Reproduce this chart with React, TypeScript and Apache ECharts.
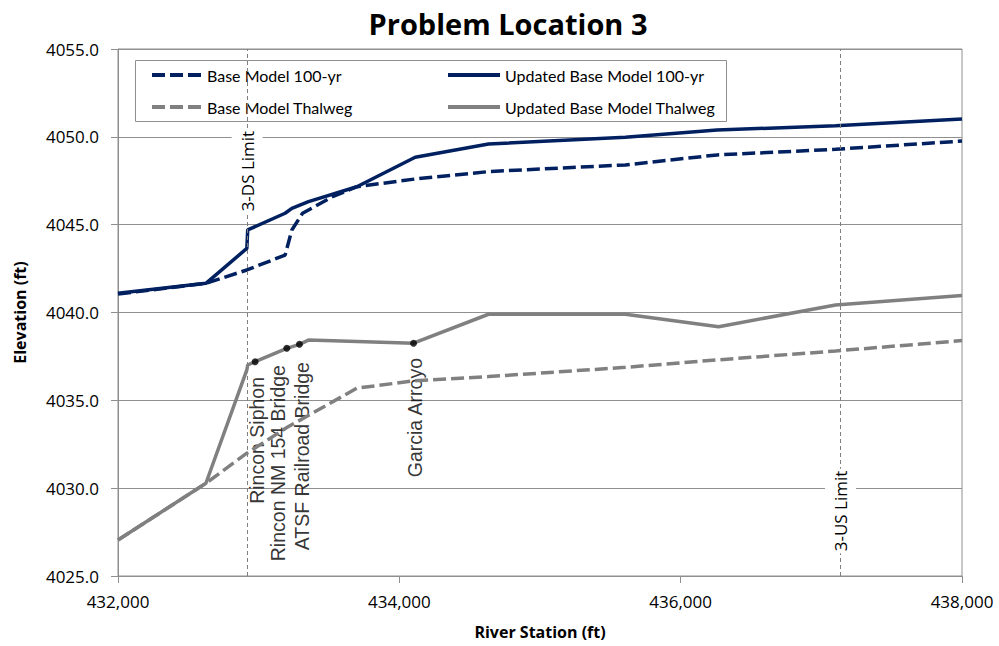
import React, { useEffect, useRef } from "react";
import * as echarts from "echarts";

const stationBase100 = [432000, 432625, 432916, 433188, 433236, 433312, 433525, 433698, 434113, 434634, 435607, 436259, 437101, 438000];
const elevBase100 = [4041.05, 4041.66, 4042.42, 4043.27, 4044.7, 4045.65, 4046.59, 4047.16, 4047.6, 4048.02, 4048.4, 4048.97, 4049.29, 4049.76];

const stationUpdated100 = [432000, 432625, 432916, 432922, 433188, 433236, 433354, 433698, 434113, 434634, 435607, 436259, 437101, 438000];
const elevUpdated100 = [4041.1, 4041.66, 4043.65, 4044.7, 4045.65, 4045.93, 4046.31, 4047.16, 4048.84, 4049.59, 4049.97, 4050.39, 4050.63, 4051.02];

const stationBaseThal = [432000, 432625, 432916, 433200, 433698, 434113, 434634, 435607, 436259, 437101, 438000];
const elevBaseThal = [4027.05, 4030.28, 4031.99, 4033.45, 4035.69, 4036.12, 4036.35, 4036.88, 4037.3, 4037.81, 4038.4];

const stationUpdatedThal = [432000, 432625, 432916, 432922, 432975, 433200, 433290, 433354, 434101, 434634, 435607, 436270, 437101, 438000];
const elevUpdatedThal = [4027.05, 4030.28, 4036.73, 4037.01, 4037.2, 4037.96, 4038.19, 4038.43, 4038.25, 4039.9, 4039.9, 4039.19, 4040.43, 4040.97];

const markerNames = ["Rincon Siphon", "Rincon NM 154 Bridge", "ATSF Railroad Bridge", "Garcia Arroyo"];
const markerStations = [432975, 433200, 433290, 434101];
const markerElevs = [4037.2, 4037.96, 4038.19, 4038.25];
const markerLabelStations = [432987, 433140, 433307, 434113];
const markerLabelElevs = [4036.33, 4037.01, 4037.18, 4037.41];

const limitNames = ["3-DS Limit", "3-US Limit"];
const limitStations = [432918, 437136];
const limitLabelElevs = [4048.05, 4028.7];

const seriesNames = ["Base Model 100-yr", "Updated Base Model 100-yr", "Base Model Thalweg", "Updated Base Model Thalweg"];

const xMin = 432000;
const xMax = 438000;
const xInterval = 2000;
const yMin = 4025;
const yMax = 4055;
const yInterval = 5;

const NAVY = "#002060";
const GRAY = "#808080";
const GRID = "#8f8f8f";

const zip = (xs: number[], ys: number[]) => xs.map((x, i) => [x, ys[i]]);

export default function App() {
  const ref = useRef<HTMLDivElement>(null);
  useEffect(() => {
    if (!ref.current) return;
    const chart = echarts.init(ref.current, null, { renderer: "svg" });
    const legendText = { fontFamily: "Lato", fontSize: 16, color: "#000" };
    const legendCommon = {
      orient: "vertical",
      top: 67,
      padding: 0,
      itemHeight: 16,
      itemGap: 16,
      textStyle: legendText,
      itemStyle: { opacity: 0 },
      lineStyle: { width: 4 },
    };
    const option: any = {
      animation: false,
      backgroundColor: "#fff",
      title: {
        text: "Problem Location 3",
        left: 503,
        textAlign: "center",
        top: 4,
        textStyle: { fontFamily: "Open Sans", fontWeight: "bold", fontSize: 29, color: "#000" },
      },
      grid: { left: 118, right: 37, top: 49, bottom: 70, show: true, borderColor: GRID, borderWidth: 1 },
      legend: [
        { ...legendCommon, data: [seriesNames[0], seriesNames[2]], left: 150, itemWidth: 50 },
        { ...legendCommon, data: [seriesNames[1], seriesNames[3]], left: 446, itemWidth: 52 },
      ],
      graphic: [
        {
          type: "rect",
          shape: { x: 135.5, y: 60.5, width: 591, height: 61 },
          style: { fill: "none", stroke: GRID, lineWidth: 1 },
          z: 10,
        },
      ],
      xAxis: {
        type: "value",
        min: xMin,
        max: xMax,
        interval: xInterval,
        name: "River Station (ft)",
        nameLocation: "middle",
        nameGap: 48,
        nameTextStyle: { fontFamily: "Open Sans", fontWeight: "bold", fontSize: 16, color: "#000" },
        axisLine: { lineStyle: { color: GRID, width: 1 } },
        axisTick: { show: true, length: 7, lineStyle: { color: GRID } },
        axisLabel: {
          margin: 17,
          fontFamily: "Open Sans",
          fontSize: 17,
          color: "#000",
          formatter: (v: number) => v.toLocaleString("en-US"),
        },
        splitLine: { show: false },
      },
      yAxis: {
        type: "value",
        min: yMin,
        max: yMax,
        interval: yInterval,
        name: "Elevation (ft)",
        nameLocation: "middle",
        nameRotate: 90,
        nameGap: 90,
        nameTextStyle: { fontFamily: "Open Sans", fontWeight: "bold", fontSize: 16, color: "#000" },
        axisLine: { show: true, lineStyle: { color: GRID, width: 1 } },
        axisTick: { show: true, length: 7, lineStyle: { color: GRID } },
        axisLabel: {
          margin: 19,
          fontFamily: "Open Sans",
          fontSize: 17,
          color: "#000",
          formatter: (v: number) => v.toFixed(1),
        },
        splitLine: { show: true, lineStyle: { color: GRID, width: 1 } },
      },
      series: [
        {
          name: seriesNames[0],
          type: "line",
          symbol: "none",
          data: zip(stationBase100, elevBase100),
          lineStyle: { color: NAVY, width: 3.5, type: [13, 5] },
          itemStyle: { color: NAVY },
          z: 3,
        },
        {
          name: seriesNames[1],
          type: "line",
          symbol: "none",
          data: zip(stationUpdated100, elevUpdated100),
          lineStyle: { color: NAVY, width: 3.5 },
          itemStyle: { color: NAVY },
          z: 4,
        },
        {
          name: seriesNames[2],
          type: "line",
          symbol: "none",
          data: zip(stationBaseThal, elevBaseThal),
          lineStyle: { color: GRAY, width: 3.5, type: [13, 5] },
          itemStyle: { color: GRAY },
          z: 3,
        },
        {
          name: seriesNames[3],
          type: "line",
          symbol: "none",
          data: zip(stationUpdatedThal, elevUpdatedThal),
          lineStyle: { color: GRAY, width: 3.5 },
          itemStyle: { color: GRAY },
          z: 4,
        },
        {
          name: "Structures",
          type: "scatter",
          symbol: "circle",
          symbolSize: 7,
          itemStyle: { color: "#000" },
          data: markerStations.map((s, i) => ({ name: markerNames[i], value: [s, markerElevs[i]] })),
          z: 6,
        },
        {
          name: "Structure labels",
          type: "scatter",
          symbolSize: 1,
          itemStyle: { color: "transparent" },
          silent: true,
          data: markerLabelStations.map((s, i) => ({ name: markerNames[i], value: [s, markerLabelElevs[i]] })),
          label: {
            show: true,
            position: "inside",
            rotate: 90,
            align: "right",
            verticalAlign: "middle",
            formatter: (p: any) => p.name,
            fontFamily: "Liberation Sans",
            fontSize: 19.5,
            color: "#000",
          },
          markLine: {
            silent: true,
            symbol: ["none", "none"],
            label: { show: false },
            lineStyle: { color: GRAY, width: 1, type: [4, 3] },
            data: limitStations.map((s) => ({ xAxis: s })),
          },
          z: 2,
        },
        {
          name: "Limits",
          type: "custom",
          silent: true,
          clip: false,
          encode: { x: 0, y: 1 },
          data: limitStations.map((s, i) => [s, limitLabelElevs[i]]),
          renderItem: (params: any, api: any) => {
            const pt = api.coord([api.value(0), api.value(1)]);
            return {
              type: "text",
              x: pt[0],
              y: pt[1],
              rotation: Math.PI / 2,
              z2: 10,
              style: {
                text: limitNames[params.dataIndex],
                fill: "#000",
                fontFamily: "Open Sans",
                fontSize: 17,
                align: "center",
                verticalAlign: "middle",
                backgroundColor: "#fff",
                padding: [7, 2],
              },
            };
          },
          z: 8,
        },
      ],
    };
    chart.setOption(option);
    return () => chart.dispose();
  }, []);
  return <div ref={ref} style={{ position: "absolute", left: 0, top: 0, width: 999, height: 646 }} />;
}
